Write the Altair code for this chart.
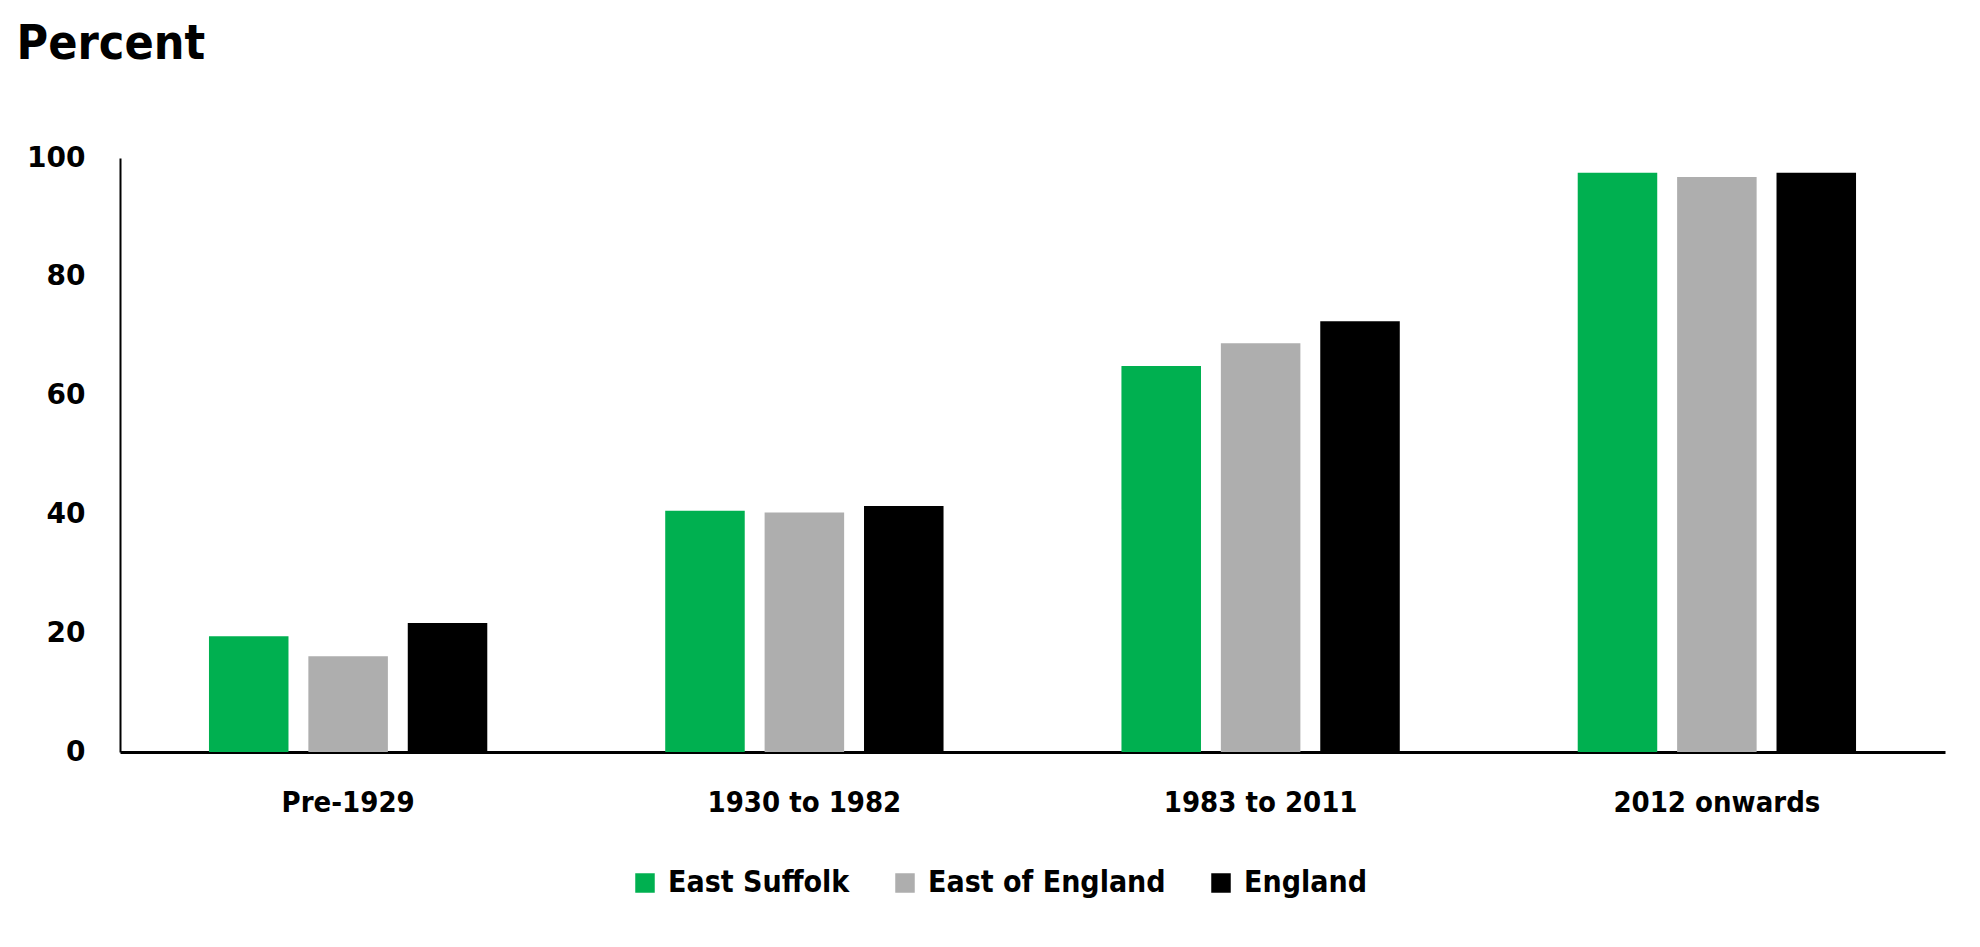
import altair as alt
import pandas as pd

periods = ["Pre-1929", "1930 to 1982", "1983 to 2011", "2012 onwards"]
series = ["East Suffolk", "East of England", "England"]
east_suffolk = [19.5, 40.6, 65.0, 97.5]
east_of_england = [16.1, 40.3, 68.8, 96.8]
england = [21.7, 41.4, 72.5, 97.5]
colors = ["#00B050", "#AEAEAE", "#000000"]

rows = []
for s, vals in zip(series, [east_suffolk, east_of_england, england]):
    for p, v in zip(periods, vals):
        rows.append({"Period": p, "Area": s, "Value": v})
df = pd.DataFrame(rows)

FONT = "DejaVu Sans Condensed, Liberation Sans Narrow, Liberation Sans, sans-serif"

chart = alt.Chart(df).mark_bar().encode(
    x=alt.X("Period:N", sort=periods, title=None,
            scale=alt.Scale(paddingInner=0.39, paddingOuter=0.195),
            axis=alt.Axis(labelAngle=0, ticks=False, domainColor="#000000",
                          domainWidth=3, labelPadding=36, labelFontSize=29,
                          labelLimit=0, labelFont=FONT, labelFontWeight="bold",
                          labelColor="#000000")),
    xOffset=alt.XOffset("Area:N", sort=series,
                        scale=alt.Scale(paddingInner=0.2, paddingOuter=0)),
    y=alt.Y("Value:Q", title=None,
            scale=alt.Scale(domain=[0, 100]),
            axis=alt.Axis(values=[0, 20, 40, 60, 80, 100], grid=False, ticks=False,
                          domainColor="#000000", domainWidth=2, labelPadding=35,
                          labelFontSize=28, labelFont="DejaVu Sans", labelFontWeight="bold",
                          labelColor="#000000", minExtent=88, maxExtent=88)),
    color=alt.Color("Area:N", sort=series,
                    scale=alt.Scale(domain=series, range=colors),
                    legend=alt.Legend(title=None, orient="none", direction="horizontal",
                                      legendX=510, legendY=710,
                                      symbolType="square", symbolSize=380,
                                      symbolStrokeWidth=0, labelFont=FONT,
                                      labelFontSize=30, labelFontWeight="bold",
                                      labelLimit=0,
                                      labelColor="#000000", columnPadding=40,
                                      labelOffset=8)),
).properties(
    width=1825,
    height=594,
    title=alt.TitleParams("Percent", anchor="start", frame="bounds", font=FONT,
                          fontSize=48, fontWeight="bold", color="#000000",
                          dx=-10, offset=75),
    padding={"left": 8, "top": 13, "right": 10, "bottom": 10},
).configure(background="#ffffff").configure_view(stroke=None)

chart.save("out.html", embed_options={"renderer": "svg", "actions": False})
